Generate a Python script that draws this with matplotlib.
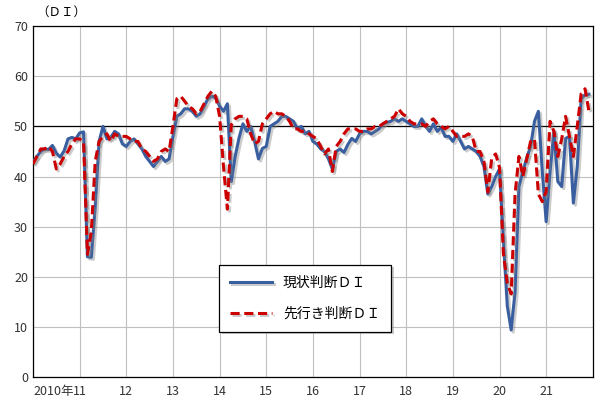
import numpy as np
import matplotlib.pyplot as plt
import matplotlib.patheffects as pe

plt.rcParams['font.family'] = ['Noto Sans CJK JP']

# monthly, 2010-01 .. 2021-12
current_di = [
    43.0, 44.0, 45.0, 45.5, 45.4, 46.2, 44.6, 43.9, 45.1, 47.5, 47.8, 47.5,   # 2010
    48.7, 48.9, 24.0, 23.9, 34.0, 47.0, 50.0, 47.5, 47.8, 49.0, 48.5, 46.5,   # 2011
    46.0, 47.0, 47.5, 46.5, 45.5, 44.0, 43.0, 42.0, 43.0, 44.0, 43.0, 43.5,   # 2012
    48.0, 52.0, 52.5, 53.5, 53.5, 53.0, 52.0, 52.5, 54.0, 55.5, 56.0, 55.7,   # 2013
    54.0, 53.0, 54.5, 39.0, 44.0, 47.7, 50.5, 49.0, 50.0, 47.0, 43.5, 45.6,   # 2014
    46.0, 50.0, 50.5, 51.0, 52.0, 52.0, 51.5, 51.0, 49.5, 50.0, 48.5, 49.0,   # 2015
    47.0, 46.5, 45.5, 45.0, 43.5, 41.5, 45.0, 45.5, 44.8, 46.4, 47.6, 47.0,   # 2016
    48.5, 49.0, 49.0, 48.5, 49.0, 49.5, 50.5, 50.8, 51.0, 51.5, 51.0, 51.5,   # 2017
    51.0, 50.5, 50.0, 50.0, 51.5, 50.0, 49.0, 50.5, 49.0, 49.8, 48.0, 48.0,   # 2018
    47.0, 48.5, 47.0, 45.5, 46.0, 45.5, 45.0, 44.0, 42.0, 36.5, 38.0, 40.0,   # 2019
    41.5, 27.4, 14.2, 9.4, 17.0, 38.0, 41.0, 43.7, 46.0, 51.0, 53.0, 41.0,    # 2020
    31.0, 41.0, 49.0, 39.0, 38.0, 47.6, 48.0, 34.7, 42.0, 55.5, 56.3, 56.4,   # 2021
]
future_di = [
    42.5, 44.0, 45.5, 45.5, 46.0, 45.0, 41.5, 42.5, 44.0, 45.0, 46.5, 47.5,   # 2010
    47.5, 47.0, 24.5, 29.0, 43.0, 47.0, 48.0, 48.5, 47.0, 48.5, 48.0, 48.0,   # 2011
    48.0, 47.5, 47.0, 47.0, 45.5, 45.0, 44.0, 43.0, 43.5, 45.0, 45.5, 45.0,   # 2012
    50.0, 55.5, 56.0, 55.0, 54.0, 53.5, 52.5, 53.0, 54.5, 56.0, 57.0, 56.0,   # 2013
    52.0, 42.0, 33.5, 50.3, 51.5, 52.0, 52.0, 51.5, 48.5, 46.5, 47.0, 50.5,   # 2014
    51.5, 52.5, 53.0, 52.5, 52.5, 52.0, 51.0, 49.5, 49.5, 49.0, 49.0, 48.5,   # 2015
    48.0, 47.5, 46.0, 44.5, 45.5, 41.0, 46.0, 47.0, 48.5, 49.5, 49.5, 49.5,   # 2016
    49.0, 49.0, 49.5, 49.5, 50.0, 50.0, 50.5, 51.0, 51.5, 52.0, 53.5, 52.5,   # 2017
    52.0, 51.0, 50.5, 50.5, 50.5, 50.0, 51.0, 51.5, 50.5, 50.0, 49.5, 50.0,   # 2018
    49.0, 48.0, 48.0, 48.0, 48.5, 48.0, 45.0, 45.0, 43.0, 36.9, 43.7, 44.5,   # 2019
    41.8, 24.6, 18.8, 16.6, 36.5, 44.0, 40.0, 43.5, 47.0, 47.5, 36.5, 35.0,   # 2020
    37.0, 51.0, 49.0, 44.0, 47.5, 52.0, 48.0, 44.0, 50.0, 56.5, 57.5, 53.0,   # 2021
]
year_labels = ['2010年', '11', '12', '13', '14', '15', '16', '17', '18', '19', '20', '21']

x = np.arange(len(current_di))
shadow = [pe.SimpleLineShadow(offset=(1.5, -1.5), shadow_color='0.5', alpha=0.4), pe.Normal()]

fig = plt.figure(figsize=(6, 4.2), dpi=100)
ax = fig.add_axes([0.055, 0.102, 0.933, 0.836])
ax.plot(x, current_di, color='#3a5fa0', lw=2.2, label='現状判断ＤＩ', path_effects=shadow, zorder=3)
ax.plot(x, future_di, color='#cc0000', lw=2.2, ls=(0, (3, 1.5)), label='先行き判断ＤＩ', path_effects=shadow, zorder=4)
ax.axhline(50, color='black', lw=0.9, zorder=2)

ax.set_xlim(0, 144)
ax.set_ylim(0, 70)
ax.set_yticks(range(0, 71, 10))
ax.set_xticks(np.arange(0, 144, 12))
ax.set_xticklabels(year_labels)
ax.get_xticklabels()[0].set_horizontalalignment('left')
ax.grid(True, color='#bfbfbf', lw=0.8)
ax.set_axisbelow(True)
ax.tick_params(length=0, labelsize=9, colors='#333333')
ax.tick_params(axis='x', pad=6)
for s in ax.spines.values():
    s.set_color('black')
    s.set_linewidth(0.9)
ax.text(0.005, 1.02, '（ＤＩ）', transform=ax.transAxes, fontsize=9, ha='left', va='bottom')

leg = ax.legend(loc='lower left', bbox_to_anchor=(0.32, 0.11), fancybox=False, framealpha=1,
                edgecolor='black', fontsize=10, handlelength=3, labelspacing=1.2, borderpad=0.8)
leg.get_frame().set_linewidth(0.9)
leg.get_frame().set_path_effects([pe.SimplePatchShadow(offset=(2, -2), shadow_rgbFace='0.6', alpha=0.5), pe.Normal()])

fig.savefig('out.png')
